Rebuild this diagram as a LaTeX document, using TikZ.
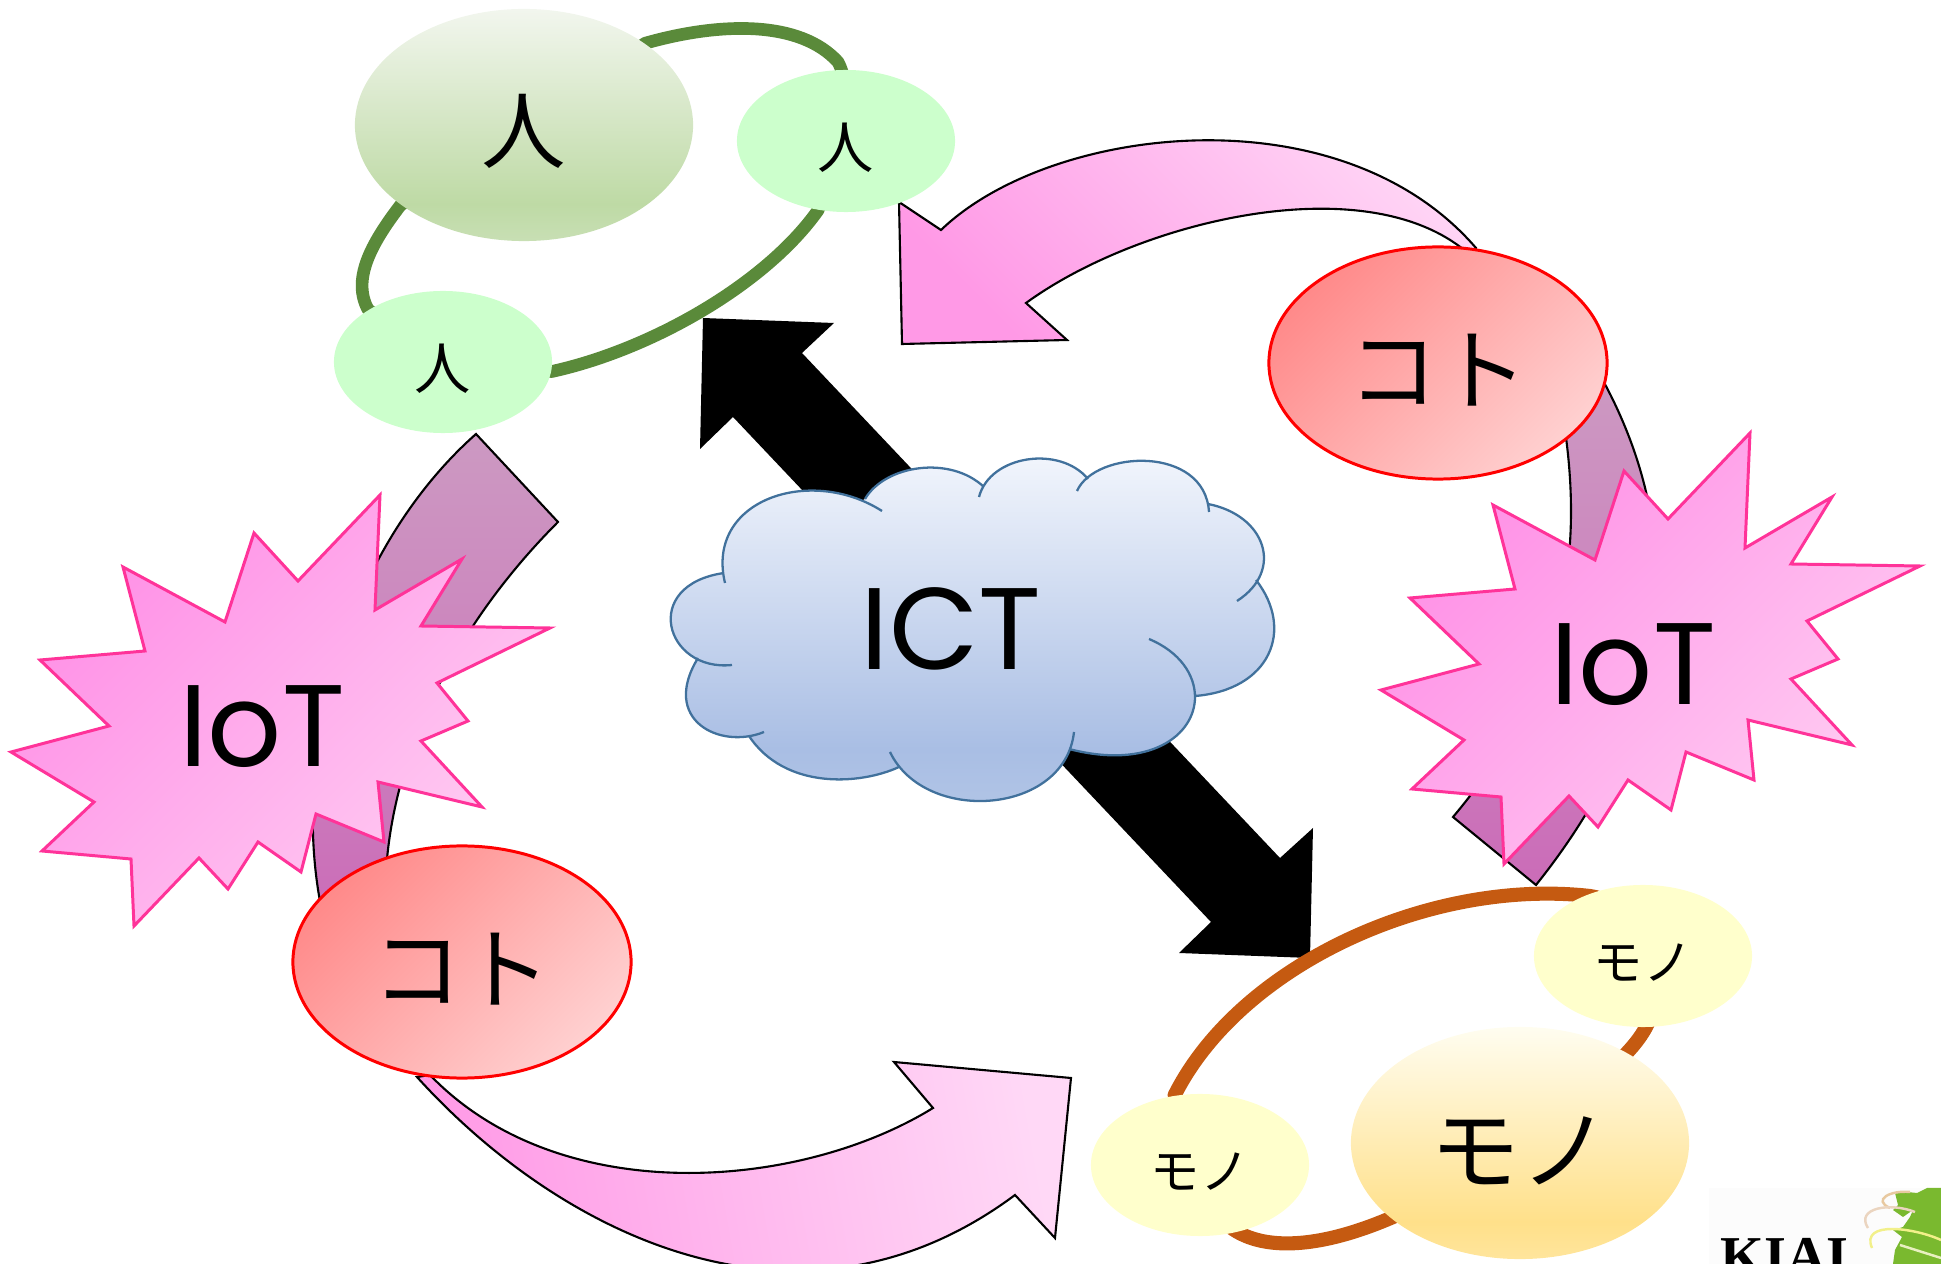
\documentclass[tikz,border=0pt]{standalone}
\usepackage{fontspec}
\usepackage{xcolor}
\usepackage{tikz}
\usetikzlibrary{shapes.geometric, positioning, backgrounds}
\setmainfont{Poppins}
\newfontfamily\jpfont{Noto Sans CJK JP}
\newfontfamily\logofont{Liberation Serif}

\definecolor{hitoTop}{HTML}{F2F6EE}
\definecolor{hitoLow}{HTML}{BEDAA5}
\definecolor{hitoEnd}{HTML}{C8DFB4}
\definecolor{monoTop}{HTML}{FFFDF0}
\definecolor{monoLow}{HTML}{FFE08A}
\definecolor{monoEnd}{HTML}{FFE59C}
\definecolor{ictTop}{HTML}{F4F7FD}
\definecolor{ictLow}{HTML}{A9BEE4}
\definecolor{ictEnd}{HTML}{B3C6E6}
\definecolor{kotoA}{HTML}{FF8A8A}
\definecolor{kotoB}{HTML}{FFD0D0}
\definecolor{hitoS}{HTML}{CCFFCC}
\definecolor{monoS}{HTML}{FFFFCC}
\definecolor{hitoG}{HTML}{5A8A3A}
\definecolor{monoO}{HTML}{C55A11}
\definecolor{burstA}{HTML}{FF8FE6}
\definecolor{burstB}{HTML}{FFCCF2}
\definecolor{burstE}{HTML}{FF3399}
\definecolor{arrowA}{HTML}{FF99E6}
\definecolor{arrowB}{HTML}{FFD8F6}
\definecolor{mauveA}{HTML}{CC99C2}
\definecolor{mauveB}{HTML}{CB6CB8}
\definecolor{ictE}{HTML}{41719C}
\definecolor{logoG}{HTML}{7AB92F}
\definecolor{logoT}{HTML}{E8C9A0}
\definecolor{logoS}{HTML}{EBD5C0}
\definecolor{logoY}{HTML}{F2F08A}
\definecolor{logoW}{HTML}{E8F0C0}
\pgfdeclareverticalshading{hitofade}{100bp}{color(0bp)=(hitoEnd); color(25bp)=(hitoEnd); color(33bp)=(hitoLow); color(75bp)=(hitoTop); color(100bp)=(hitoTop)}
\pgfdeclareverticalshading{monofade}{100bp}{color(0bp)=(monoEnd); color(25bp)=(monoEnd); color(33bp)=(monoLow); color(75bp)=(monoTop); color(100bp)=(monoTop)}
\pgfdeclareverticalshading{ictfade}{100bp}{color(0bp)=(ictEnd); color(25bp)=(ictEnd); color(35bp)=(ictLow); color(75bp)=(ictTop); color(100bp)=(ictTop)}

% the burst around IoT, drawn twice
\newcommand{\burstpath}{(11,752) -- (109,726) -- (40,660) -- (145,651) -- (123,567) -- (225,622) -- (254,533) -- (298,581) -- (380,495) -- (375,610) -- (462,559) -- (421,626) -- (550,628) -- (437,683) -- (468,721) -- (421,741) -- (482,807) -- (378,782) -- (384,842) -- (316,814) -- (301,872) -- (258,842) -- (228,889) -- (199,858) -- (134,926) -- (131,859) -- (42,851) -- (94,802) -- cycle}

% cloud lobes, clockwise from the left
\newcommand{\cloudlobes}{
  (725,583) .. controls (705,500) and (810,465) .. (882,511)
  (865,499) .. controls (885,465) and (950,455) .. (984,487)
  (979,497) .. controls (990,455) and (1060,445) .. (1088,479)
  (1077,491) .. controls (1095,450) and (1205,445) .. (1209,512)
  (1208,504) .. controls (1265,515) and (1285,570) .. (1237,601)
  (1256,580) .. controls (1295,630) and (1270,690) .. (1195,696)
  (1149,639) .. controls (1180,652) and (1195,675) .. (1195,697) .. controls (1195,735) and (1150,770) .. (1069,749)
  (1074,732) .. controls (1065,815) and (925,825) .. (890,752)
  (899,767) .. controls (860,785) and (785,790) .. (749,736)
  (764,732) .. controls (720,750) and (660,720) .. (698,658)
  (732,665) .. controls (665,672) and (640,585) .. (724,573)
}

\begin{document}
\begin{tikzpicture}[
  x=0.01cm, y=-0.01cm,
  bigoval/.style={ellipse, minimum width=3.38cm, minimum height=2.32cm, inner sep=0pt, font=\jpfont\fontsize{25.5}{28}\selectfont, text height=22.8pt, text depth=0pt},
  hitobig/.style={bigoval, shade, shading=hitofade, font=\jpfont\fontsize{24}{28}\selectfont, text height=21.6pt},
  monobig/.style={bigoval, shade, shading=monofade},
  koto/.style={bigoval, left color=kotoA, right color=kotoB, shading angle=45, draw=red, line width=0.85pt},
  hitosmall/.style={ellipse, minimum width=2.18cm, minimum height=1.42cm, inner sep=0pt, fill=hitoS, font=\jpfont\fontsize{16}{20}\selectfont, text height=15.6pt, text depth=0pt},
  monosmall/.style={ellipse, minimum width=2.18cm, minimum height=1.42cm, inner sep=0pt, fill=monoS, font=\jpfont\fontsize{14}{18}\selectfont, text height=14pt, text depth=0pt},
  hitoring/.style={draw=hitoG, line width=3.6pt, line join=round},
  monoring/.style={draw=monoO, line width=4pt, line join=round},
  burst/.style={left color=burstA, right color=burstB, shading angle=45, draw=burstE, line width=0.85pt, line join=miter},
  bigtext/.style={font=\fontsize{33}{36}\selectfont, inner sep=0pt},
  pinkarrow/.style={left color=arrowA, right color=arrowB, draw=black, line width=0.6pt},
  mauvearrow/.style={top color=mauveA, bottom color=mauveB, draw=black, line width=0.6pt},
  cloudfill/.style={shade, shading=ictfade},
  cloudline/.style={draw=ictE, line width=0.65pt},
]
\useasboundingbox (0,0) rectangle (1941,1264);

% bursts and cloud
\draw[burst] \burstpath;
\draw[burst, shift={(1370,-62)}] \burstpath;
\path[cloudfill] (724,573) -- (865,499) -- (984,487) -- (1088,479) -- (1208,504) -- (1256,580) -- (1195,696) -- (1069,749) -- (899,767) -- (749,736) -- (698,658) -- cycle \cloudlobes;
\draw[cloudline] \cloudlobes;

% ovals
\node[hitobig] (hitoB) at (524,125) {人};
\node[hitosmall] (hitoR) at (846,141) {人};
\node[hitosmall] (hitoL) at (443,362) {人};
\node[koto] (kotoT) at (1438,363) {コト};
\node[koto] (kotoL) at (462,962) {コト};
\node[monobig] (monoB) at (1520,1143) {モノ};
\node[monosmall] (monoR) at (1643,956) {モノ};
\node[monosmall] (monoL) at (1200,1165) {モノ};

% labels
\node[bigtext] (ict) at (951,629) {ICT};
\node[bigtext] (iotL) at (262,727) {IoT};
\node[bigtext] (iotR) at (1633,665) {IoT};

% logo, cut by the page edge
\fill[black!1] (1709,1188) rectangle (1941,1264);
\node[anchor=north west, inner sep=0pt, font=\logofont\bfseries\fontsize{16}{18}\selectfont] (kiai) at (1720,1238) {KIAI};
\fill[logoG] (1895,1193) -- (1907,1192) -- (1917,1193) -- (1927,1188) -- (1941,1188) -- (1941,1264) -- (1893,1264) -- (1895,1250) -- (1902,1237) -- (1893,1230) -- (1903,1227) -- (1910,1217) -- (1913,1210) -- (1903,1217) -- (1893,1210) -- (1898,1205) -- cycle;
\draw[logoT, line width=0.7pt] (1910,1192) .. controls (1890,1190) and (1872,1200) .. (1890,1208);
\draw[logoS, line width=0.7pt] (1915,1212) .. controls (1890,1202) and (1855,1208) .. (1868,1228);
\draw[logoY, line width=0.7pt] (1941,1240) .. controls (1915,1228) and (1860,1220) .. (1872,1248);
\draw[logoW, line width=0.7pt] (1900,1245) -- (1941,1258);

\begin{scope}[on background layer]
% block arrows
\draw[pinkarrow, shading angle=135] (941,230) .. controls (1050,125) and (1340,90) .. (1476,248) -- (1470,255) .. controls (1370,165) and (1140,220) .. (1026,303) -- (1067,340) -- (902,344) -- (899,202) -- cycle;
\draw[pinkarrow, shading angle=100] (1015,1195) .. controls (800,1355) and (560,1235) .. (417,1077) -- (430,1075) .. controls (560,1210) and (800,1190) .. (933,1108) -- (894,1062) -- (1071,1078) -- (1055,1238) -- cycle;
\draw[mauvearrow] (476,434) .. controls (345,550) and (285,760) .. (325,925) -- (385,900) .. controls (385,760) and (455,625) .. (558,522) -- cycle;
\draw[mauvearrow] (1453,817) .. controls (1560,690) and (1590,560) .. (1560,400) -- (1600,375) .. controls (1700,555) and (1660,730) .. (1536,885) -- cycle;
\fill[black] (703,318) -- (834,323) -- (802,353) -- (1280,858) -- (1313,828) -- (1310,958) -- (1179,953) -- (1211,922) -- (733,417) -- (700,449) -- cycle;
% rings between the ovals
\draw[hitoring] (hitoB.center) -- (hitoB.34) .. controls (720,22) and (800,20) .. (838,62) .. controls (845,75) and (850,100) .. (hitoR.center);
\draw[hitoring] (hitoR.center) -- (hitoR.-112) .. controls (765,285) and (650,350) .. (hitoL.-5) -- (hitoL.center);
\draw[hitoring] (hitoB.center) -- (hitoB.213) .. controls (370,245) and (352,280) .. (hitoL.145) -- (hitoL.center);
\draw[monoring] (monoL.center) -- (monoL.110) .. controls (1240,965) and (1430,878) .. (1590,896) .. controls (1620,900) and (1640,930) .. (monoR.center);
\draw[monoring] (monoR.center) .. controls (1680,1030) and (1620,1060) .. (monoB.center);
\draw[monoring] (monoL.center) .. controls (1210,1280) and (1350,1265) .. (monoB.center);
\end{scope}
\end{tikzpicture}
\end{document}
